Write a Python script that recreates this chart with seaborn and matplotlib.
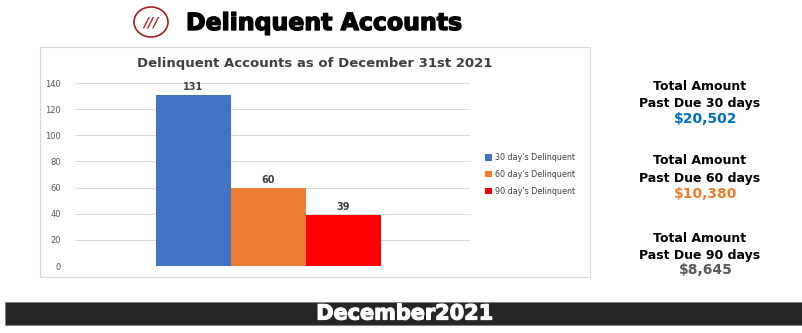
import matplotlib
matplotlib.use("Agg")
import matplotlib.pyplot as plt
import matplotlib.patches as mpatches
import matplotlib.patheffects as pe
import seaborn as sns
import pandas as pd

categories = ["30 day's Delinquent", "60 day's Delinquent", "90 day's Delinquent"]
counts = [131, 60, 39]
colors = ["#4472C4", "#ED7D31", "#FF0000"]
yticks = [0, 20, 40, 60, 80, 100, 120, 140]
amount_days = ["30", "60", "90"]
amounts = ["$20,502", "$10,380", "$8,645"]
amount_colors = ["#0070C0", "#ED7D31", "#595959"]

sns.set_theme(style="white")
plt.rcParams['font.family'] = ['DejaVu Sans']

W, H = 803, 333
fig = plt.figure(figsize=(W / 100, H / 100), dpi=100)
fig.patch.set_facecolor("white")

def fx(x):
    return x / W

def fy(y):
    return 1 - y / H

# chart box border
box = mpatches.Rectangle((fx(40), fy(277)), fx(590) - fx(40), fy(47) - fy(277),
                         transform=fig.transFigure, fill=False, edgecolor="#D9D9D9", lw=0.8)
fig.patches.append(box)

ax = fig.add_axes([fx(75), fy(266), fx(470) - fx(75), fy(83) - fy(266)])
df = pd.DataFrame({"group": [""] * 3, "series": categories, "count": counts})
sns.barplot(data=df, x="group", y="count", hue="series", palette=colors,
            width=0.57, ax=ax, saturation=1, dodge=True, linewidth=0, edgecolor="none")
ax.set_xlim(-0.49, 0.51)
ax.set_ylim(0, 140)
ax.set_yticks(yticks)
ax.tick_params(axis="y", labelsize=6, colors="#595959", length=0, pad=10)
ax.set_xticks([])
ax.set_xlabel("")
ax.set_ylabel("")
for s in ax.spines.values():
    s.set_visible(False)
ax.grid(axis="y", color="#D9D9D9", lw=0.7)
ax.set_axisbelow(True)
for cont in ax.containers:
    ax.bar_label(cont, padding=2, fontsize=7, fontweight="bold", color="#404040")
leg = ax.legend(loc="center left", bbox_to_anchor=((478 - 75) / (470 - 75), 0.5),
                frameon=False, fontsize=5.8, handlelength=0.8, handleheight=0.8,
                handletextpad=0.4, labelspacing=0.95)
for t in leg.get_texts():
    t.set_color("#404040")

fig.text(fx(315), fy(64), "Delinquent Accounts as of December 31st 2021", ha="center", va="center",
         fontsize=9.5, fontweight="bold", color="#404040")

heavy_black = [pe.Stroke(linewidth=1.0, foreground="black"), pe.Normal()]
heavy_white = [pe.Stroke(linewidth=0.9, foreground="white"), pe.Normal()]

# header logo + title
logo = mpatches.Ellipse((fx(151), fy(22)), fx(34), fy(0) - fy(30), transform=fig.transFigure,
                        fill=False, edgecolor="#A02020", lw=1.2)
fig.patches.append(logo)
fig.text(fx(151), fy(23), "///", ha="center", va="center", fontsize=10, fontweight="bold",
         style="italic", color="#C0282D")
fig.text(fx(186), fy(23), "Delinquent Accounts", ha="left", va="center",
         fontsize=17, fontweight="heavy", color="black", path_effects=heavy_black)

# right summaries
group_y = [(87, 103, 119), (161, 178, 194), (239, 255, 270)]
for (y1, y2, y3), d, amt, c in zip(group_y, amount_days, amounts, amount_colors):
    fig.text(fx(700), fy(y1), "Total Amount", ha="center", va="center", fontsize=9,
             fontweight="bold", color="black")
    fig.text(fx(700), fy(y2), f"Past Due {d} days", ha="center", va="center", fontsize=9,
             fontweight="bold", color="black")
    fig.text(fx(706), fy(y3), amt, ha="center", va="center", fontsize=10,
             fontweight="heavy", color=c)

# bottom bar
bar = mpatches.Rectangle((fx(5), fy(325)), fx(803) - fx(5), fy(302) - fy(325),
                         transform=fig.transFigure, facecolor="#262626", edgecolor="#808080", lw=0.6)
fig.patches.append(bar)
fig.text(fx(405), fy(313.5), "December2021", ha="center", va="center", fontsize=15,
         fontweight="heavy", color="white", path_effects=heavy_white)

fig.savefig("out.png", dpi=100, facecolor="white")
